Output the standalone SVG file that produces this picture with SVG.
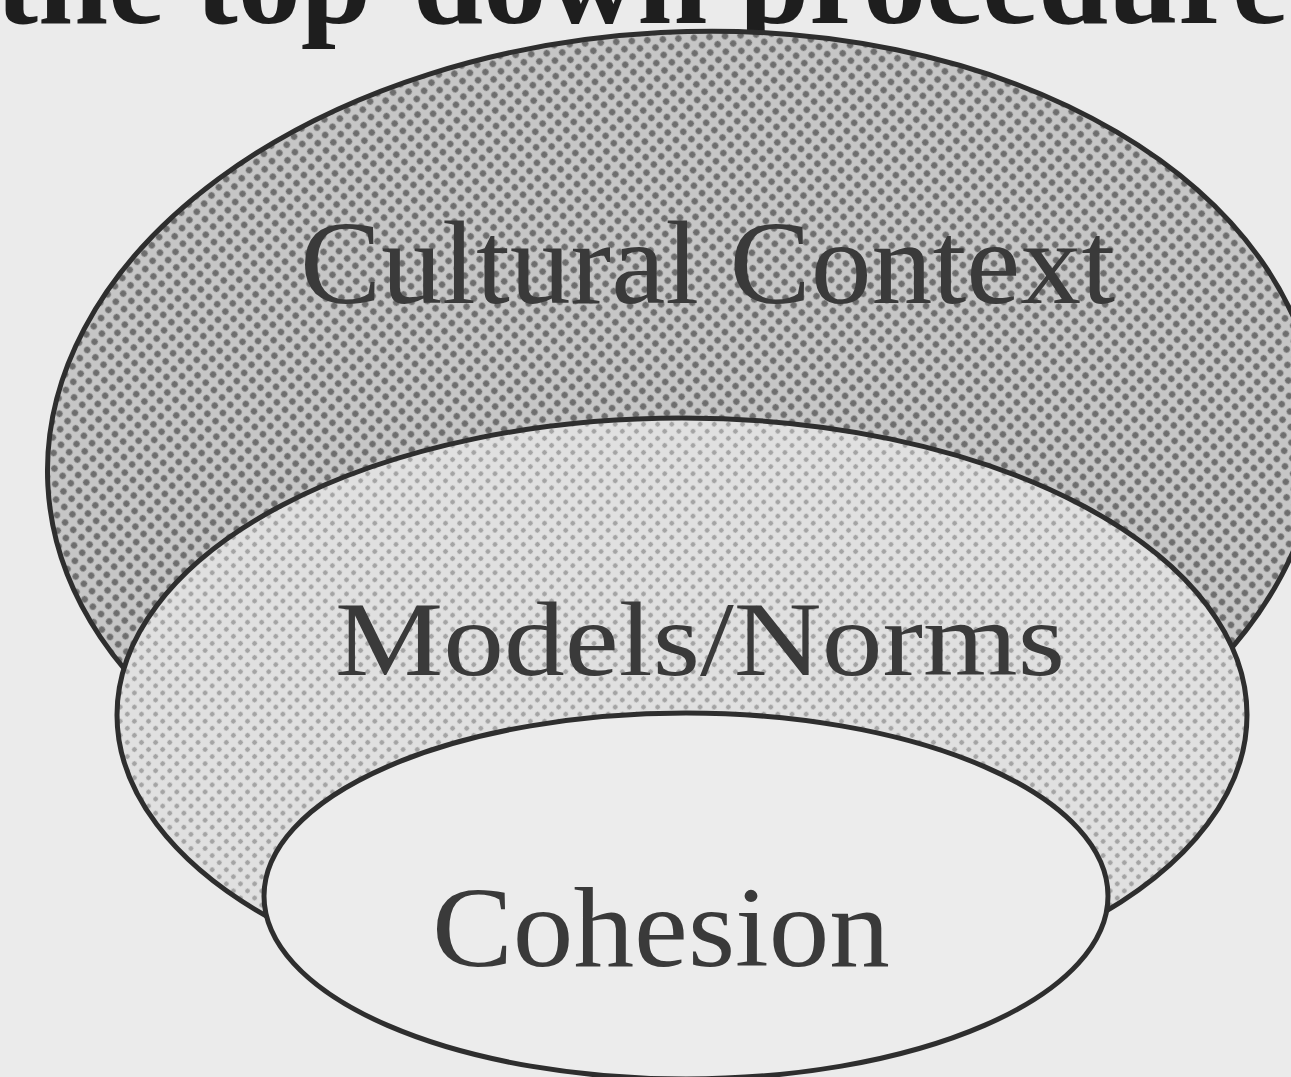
<svg xmlns="http://www.w3.org/2000/svg" width="1291" height="1077" viewBox="0 0 1291 1077">
  <defs>
    <pattern id="darkDots" width="11" height="11" patternUnits="userSpaceOnUse" patternTransform="rotate(45)">
      <rect width="11" height="11" fill="#c6c6c6"/>
      <circle cx="5.5" cy="5.5" r="3.2" fill="#6e6e6e"/>
    </pattern>
    <pattern id="lightDots" width="10" height="10" patternUnits="userSpaceOnUse" patternTransform="rotate(45)">
      <rect width="10" height="10" fill="#e0e0e0"/>
      <circle cx="5" cy="5" r="2.4" fill="#a4a4a4"/>
    </pattern>
  </defs>
  <style>
    .shape { stroke: #2e2e2e; stroke-width: 5; }
    .label { font-family: "Liberation Serif", "Times New Roman", serif; fill: #3a3a3a; }
    .title { font-family: "Liberation Serif", "Times New Roman", serif; font-weight: bold; fill: #1e1e1e; }
  </style>
  <rect width="1291" height="1077" fill="#ebebeb"/>
  <text class="title" x="-4" y="23" font-size="122" textLength="1292" lengthAdjust="spacingAndGlyphs">the top-down procedure</text>
  <g id="cultural-context">
    <ellipse class="shape" cx="683" cy="452" rx="636" ry="420" transform="rotate(-3 683 452)" fill="url(#darkDots)"/>
    <text class="label" x="300" y="303" font-size="118" textLength="815" lengthAdjust="spacingAndGlyphs">Cultural Context</text>
  </g>
  <g id="models-norms">
    <ellipse class="shape" cx="682" cy="715" rx="565" ry="297" fill="url(#lightDots)"/>
    <text class="label" x="335" y="675" font-size="106" textLength="730" lengthAdjust="spacingAndGlyphs">Models/Norms</text>
  </g>
  <g id="cohesion">
    <ellipse class="shape" cx="686" cy="896" rx="422" ry="183" fill="#ececec"/>
    <text class="label" x="432" y="966" font-size="114" textLength="458" lengthAdjust="spacingAndGlyphs">Cohesion</text>
  </g>
  <g id="connectors"></g>
</svg>
